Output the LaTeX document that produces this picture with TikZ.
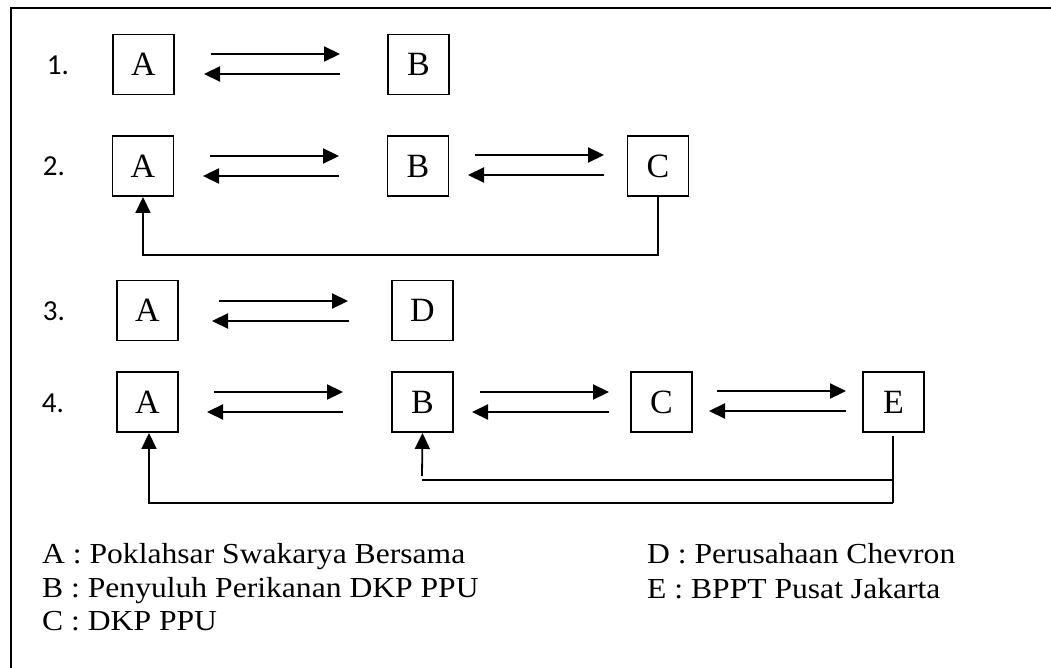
\documentclass[tikz,border=0pt]{standalone}
\usepackage{fontspec}
\setmainfont{Liberation Serif}
\newfontfamily\numfont{Carlito}
\usetikzlibrary{arrows.meta}
\tikzset{
  box/.style={draw, line width=1.9pt, minimum width=61pt, minimum height=60pt, inner sep=0pt, font=\fontsize{34}{34}\selectfont},
  numlbl/.style={font=\numfont\fontsize{29}{29}\selectfont, inner sep=0pt},
  flow/.style={line width=2.2pt, -{Triangle[length=16pt,width=15pt]}},
  back/.style={line width=1.8pt},
  backarr/.style={line width=1.8pt, -{Triangle[length=16pt,width=15pt]}},
  legend/.style={anchor=base west, inner sep=0pt, font=\fontsize{29}{29}\selectfont},
}
\newcommand{\legtxt}[1]{\scalebox{1.09}[1]{#1}}
\begin{document}
\begin{tikzpicture}[x=1pt,y=-1pt]
\useasboundingbox (0,0) rectangle (1051,668);
% frame
\draw[line width=2pt] (11,668) -- (11,8) -- (1051,8);

% row 1
\node[numlbl] (n1) at (58,65) {1.};
\node[box] (A1) at (143.5,64.5) {A};
\node[box] (B1) at (418.5,64.5) {B};
\coordinate (r1a) at (211,54); \coordinate (r1b) at (340,54);
\coordinate (l1a) at (340,74); \coordinate (l1b) at (204,74);
\draw[flow] (r1a) -- (r1b);
\draw[flow] (l1a) -- (l1b);

% row 2
\node[numlbl] (n2) at (54,166) {2.};
\node[box] (A2) at (143,166) {A};
\node[box] (B2) at (418,166) {B};
\node[box] (C2) at (658,166) {C};
\coordinate (r2a) at (210,156); \coordinate (r2b) at (339,156);
\coordinate (l2a) at (339,176); \coordinate (l2b) at (203,176);
\coordinate (r2c) at (475,155); \coordinate (r2d) at (604,155);
\coordinate (l2c) at (604,175); \coordinate (l2d) at (468,175);
\draw[flow] (r2a) -- (r2b);
\draw[flow] (l2a) -- (l2b);
\draw[flow] (r2c) -- (r2d);
\draw[flow] (l2c) -- (l2d);
\coordinate (f2a) at (658,255); \coordinate (f2b) at (143,255);
\draw[backarr] (C2.south) -- (f2a) -- (f2b) -- (A2.south);

% row 3
\node[numlbl] (n3) at (54,311) {3.};
\node[box] (A3) at (147.5,310.5) {A};
\node[box] (D3) at (422.5,310.5) {D};
\coordinate (r3a) at (219,301); \coordinate (r3b) at (348,301);
\coordinate (l3a) at (349,321); \coordinate (l3b) at (212,321);
\draw[flow] (r3a) -- (r3b);
\draw[flow] (l3a) -- (l3b);

% row 4
\node[numlbl] (n4) at (53,403) {4.};
\node[box] (A4) at (147.5,402) {A};
\node[box] (B4) at (422.5,402) {B};
\node[box] (C4) at (661.5,402) {C};
\node[box] (E4) at (893.5,402) {E};
\coordinate (r4a) at (214,392); \coordinate (r4b) at (343,392);
\coordinate (l4a) at (343,412); \coordinate (l4b) at (207,412);
\coordinate (r4c) at (480,392); \coordinate (r4d) at (609,392);
\coordinate (l4c) at (609,412); \coordinate (l4d) at (472,412);
\coordinate (r4e) at (717,391); \coordinate (r4f) at (846,391);
\coordinate (l4e) at (846,411); \coordinate (l4f) at (709,411);
\draw[flow] (r4a) -- (r4b);
\draw[flow] (l4a) -- (l4b);
\draw[flow] (r4c) -- (r4d);
\draw[flow] (l4c) -- (l4d);
\draw[flow] (r4e) -- (r4f);
\draw[flow] (l4e) -- (l4f);
% feedback lines
\coordinate (e1) at (893,436); \coordinate (e2) at (893,503);
\coordinate (e3) at (893,480); \coordinate (e4) at (422,480);
\coordinate (b1) at (422,476);
\coordinate (a1) at (149,503);
\draw[back] (e1) -- (e2);
\draw[back] (e3) -- (e4);
\draw[backarr] (b1) -- (B4.south);
\draw[backarr] (e2) -- (a1) -- (A4.south -| a1);

% legend
\node[legend] (la) at (42,563) {\legtxt{A : Poklahsar Swakarya Bersama}};
\node[legend] (lb) at (42,597) {\legtxt{B : Penyuluh Perikanan DKP PPU}};
\node[legend] (lc) at (42,630) {\legtxt{C : DKP PPU}};
\node[legend] (ld) at (647,563) {\legtxt{D : Perusahaan Chevron}};
\node[legend] (le) at (647,598) {\legtxt{E : BPPT Pusat Jakarta}};
\end{tikzpicture}
\end{document}
